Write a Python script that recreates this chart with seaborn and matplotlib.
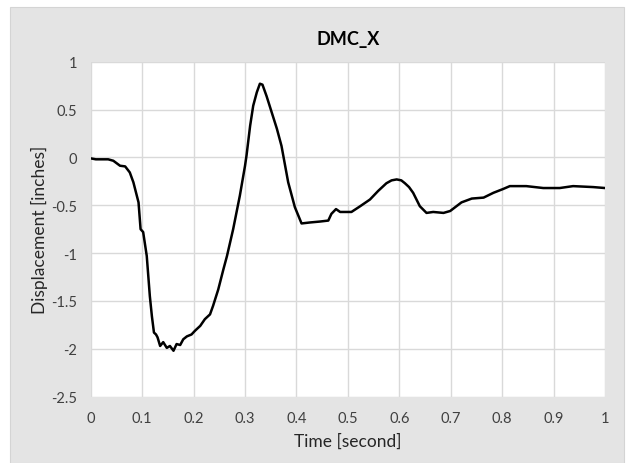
import matplotlib
matplotlib.use("Agg")
import matplotlib.pyplot as plt
from matplotlib.patches import Rectangle
from matplotlib.ticker import FuncFormatter, MultipleLocator
import pandas as pd
import seaborn as sns

# DMC_X displacement trace
time_s = [0.000, 0.010, 0.020, 0.034, 0.044, 0.057, 0.067, 0.076, 0.083, 0.093,
          0.097, 0.102, 0.109, 0.115, 0.119, 0.123, 0.127, 0.130, 0.135, 0.141,
          0.148, 0.154, 0.161, 0.167, 0.174, 0.180, 0.187, 0.196, 0.203, 0.213,
          0.222, 0.232, 0.238, 0.248, 0.258, 0.265, 0.277, 0.290, 0.300, 0.303,
          0.310, 0.316, 0.323, 0.329, 0.334, 0.342, 0.352, 0.362, 0.371, 0.384,
          0.397, 0.410, 0.426, 0.446, 0.462, 0.468, 0.477, 0.485, 0.507, 0.524,
          0.543, 0.559, 0.575, 0.585, 0.595, 0.604, 0.611, 0.619, 0.627, 0.640,
          0.653, 0.666, 0.686, 0.699, 0.721, 0.741, 0.764, 0.783, 0.802, 0.815,
          0.847, 0.880, 0.912, 0.938, 0.977, 1.000]
disp_in = [-0.01, -0.02, -0.02, -0.02, -0.035, -0.087, -0.094, -0.157, -0.26, -0.47,
           -0.75, -0.78, -1.03, -1.45, -1.66, -1.83, -1.85, -1.88, -1.97, -1.93,
           -1.99, -1.97, -2.02, -1.95, -1.96, -1.90, -1.87, -1.85, -1.81, -1.76,
           -1.69, -1.64, -1.55, -1.38, -1.17, -1.03, -0.75, -0.40, -0.09, 0.02,
           0.33, 0.54, 0.68, 0.77, 0.76, 0.64, 0.47, 0.30, 0.12, -0.26,
           -0.52, -0.69, -0.68, -0.67, -0.66, -0.59, -0.54, -0.57, -0.57, -0.51,
           -0.44, -0.35, -0.27, -0.24, -0.23, -0.24, -0.27, -0.31, -0.37, -0.51,
           -0.58, -0.57, -0.58, -0.56, -0.47, -0.43, -0.42, -0.37, -0.33, -0.30,
           -0.30, -0.32, -0.32, -0.30, -0.31, -0.32]

df = pd.DataFrame({"time": time_s, "disp": disp_in})

sns.set_style("whitegrid", {"grid.color": "#d9d9d9", "axes.edgecolor": "#d9d9d9"})
plt.rcParams["font.family"] = ["Lato", "DejaVu Sans"]
plt.rcParams["axes.unicode_minus"] = False

fig = plt.figure(figsize=(6.29, 4.64), dpi=100)
fig.patch.set_facecolor("white")
# grey chart-area box like the Excel export
fig.patches.append(Rectangle((10 / 629, 0), 614 / 629, 456 / 464,
                             transform=fig.transFigure, facecolor="#e4e4e4",
                             edgecolor="#d4d4d4", lw=0.8, zorder=-10))

ax = fig.add_axes([0.1442, 0.1429, 0.8176, 0.7220])
ax.set_facecolor("white")
sns.lineplot(data=df, x="time", y="disp", color="black", linewidth=1.8, ax=ax)

ax.set_xlim(0, 1)
ax.set_ylim(-2.5, 1)
ax.xaxis.set_major_locator(MultipleLocator(0.1))
ax.yaxis.set_major_locator(MultipleLocator(0.5))
fmt = FuncFormatter(lambda v, p: f"{round(v, 2):g}")
ax.xaxis.set_major_formatter(fmt)
ax.yaxis.set_major_formatter(fmt)
ax.grid(True, color="#d9d9d9", linewidth=1.0)
for s in ax.spines.values():
    s.set_visible(False)
ax.tick_params(axis="both", length=0, labelsize=10.5, colors="#404040")
ax.tick_params(axis="y", pad=10)
ax.tick_params(axis="x", pad=10)

ax.set_title("DMC_X", fontsize=13, fontweight="bold", color="black", pad=13)
ax.set_xlabel("Time [second]", fontsize=12.5, color="#262626", labelpad=6)
ax.set_ylabel("Displacement [inches]", fontsize=12.5, color="#262626", labelpad=2)

fig.savefig("out.png", dpi=100)
